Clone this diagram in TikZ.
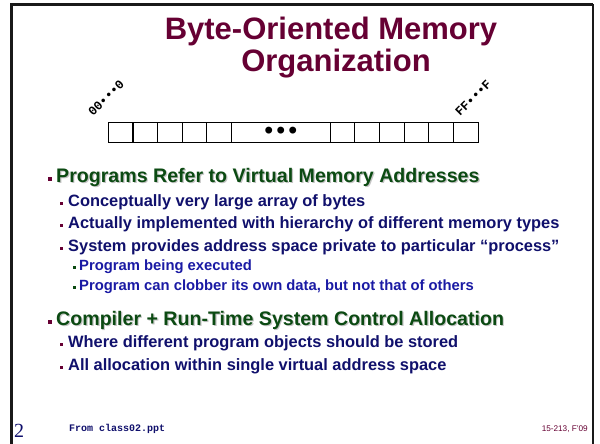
\documentclass[tikz,border=0pt]{standalone}
\usepackage{fontspec}
\setmainfont{Liberation Sans}
\newfontfamily\codefont{Liberation Mono}
\newfontfamily\pagefont{Liberation Serif}

\definecolor{titlered}{HTML}{660033}
\definecolor{levelgreen}{HTML}{0B4A12}
\definecolor{levelnavy}{HTML}{10106C}
\definecolor{levelblue}{HTML}{1A1AA4}
\definecolor{shadowgray}{HTML}{C4C4C4}

\tikzset{
  frameline/.style={line width=2.4pt, black!90},
  titletext/.style={anchor=base, inner sep=0pt, text=titlered,
    font=\fontsize{31}{31}\selectfont\bfseries},
  cell/.style={draw=black, line width=1.1pt, minimum height=20pt,
    minimum width=24.65pt, inner sep=0pt, outer sep=0pt},
  widecell/.style={cell, minimum width=98.6pt},
  addrlabel/.style={anchor=base west, rotate=45, inner sep=0pt,
    font=\codefont\fontsize{12.5}{12.5}\selectfont\bfseries},
  dotstext/.style={inner sep=0pt, font=\fontsize{24}{24}\selectfont\bfseries},
  % bullet text levels
  lvlone/.style={anchor=base west, inner sep=0pt, text=levelgreen,
    font=\fontsize{19.6}{19.6}\selectfont\bfseries},
  lvloneshadow/.style={lvlone, text=shadowgray},
  lvltwo/.style={anchor=base west, inner sep=0pt, text=levelnavy,
    font=\fontsize{16.4}{16.4}\selectfont\bfseries},
  lvlthree/.style={anchor=base west, inner sep=0pt, text=levelblue,
    font=\fontsize{14.8}{14.8}\selectfont\bfseries},
  % bullet squares
  sqone/.style={fill=titlered, minimum size=4.2pt, inner sep=0pt, anchor=south west},
  sqtwo/.style={fill=titlered, minimum size=3.6pt, inner sep=0pt, anchor=south west},
  sqthree/.style={fill=levelgreen, minimum size=3.2pt, inner sep=0pt, anchor=south west},
  footnum/.style={anchor=base west, inner sep=0pt, text=levelnavy,
    font=\pagefont\fontsize{20}{20}\selectfont},
  footsrc/.style={anchor=base west, inner sep=0pt, text=levelnavy,
    font=\codefont\fontsize{10}{10}\selectfont\bfseries},
  footcourse/.style={anchor=base east, inner sep=0pt, text=titlered,
    font=\fontsize{8.2}{8.2}\selectfont},
}

\begin{document}
\begin{tikzpicture}[x=1pt, y=-1pt]
\useasboundingbox (0,0) rectangle (600,444);
\fill[white] (0,0) rectangle (600,444);

% slide frame, open at the bottom
\draw[frameline] (11.5,444) -- (11.5,4.5) -- (593,4.5);
\draw[line width=1.4pt, black!90] (593,4.5) -- (593,444);

% title
\node[titletext] (title1) at (331,40) {Byte-Oriented Memory};
\node[titletext] (title2) at (336,71) {Organization};

% byte array
\foreach \i in {1,...,5} {
  \node[cell] (c\i) at ({108.3 + (\i-0.5)*24.65}, 132.2) {};
}
\node[widecell] (cmid) at ({108.3 + 5*24.65 + 49.3}, 132.2) {};
\node[dotstext] (dots) at ([yshift=-0.5pt]cmid.center) {•\hspace{3.6pt}•\hspace{3.6pt}•};
\foreach \i in {7,...,12} {
  \node[cell] (c\i) at ({108.3 + 9*24.65 + (\i-6.5)*24.65}, 132.2) {};
}
\node[addrlabel] (lowaddr) at (93,117) {00•••0};
\node[addrlabel] (highaddr) at (460,117) {FF•••F};

% first group
\node[sqone] (b1) at (47.5,181) {};
\node[lvloneshadow] at (57.2,183.2) {Programs Refer to Virtual Memory Addresses};
\node[lvlone] (t1) at (56,182) {Programs Refer to Virtual Memory Addresses};

\node[sqtwo] (b11) at (59.5,205.5) {};
\node[lvltwo] (t11) at (68,206) {Conceptually very large array of bytes};
\node[sqtwo] (b12) at (59.5,227.5) {};
\node[lvltwo] (t12) at (68,228) {Actually implemented with hierarchy of different memory types};
\node[sqtwo] (b13) at (59.5,250.5) {};
\node[lvltwo] (t13) at (68,251) {System provides address space private to particular “process”};

\node[sqthree] (b131) at (73,269.5) {};
\node[lvlthree] (t131) at (79,270) {Program being executed};
\node[sqthree] (b132) at (73,289.5) {};
\node[lvlthree] (t132) at (79,290) {Program can clobber its own data, but not that of others};

% second group
\node[sqone] (b2) at (47.5,324) {};
\node[lvloneshadow] at (57.2,326.2) {Compiler + Run-Time System Control Allocation};
\node[lvlone] (t2) at (56,325) {Compiler + Run-Time System Control Allocation};

\node[sqtwo] (b21) at (59.5,346.5) {};
\node[lvltwo] (t21) at (68,347) {Where different program objects should be stored};
\node[sqtwo] (b22) at (59.5,369.5) {};
\node[lvltwo] (t22) at (68,370) {All allocation within single virtual address space};

% footer
\node[footnum] (pagenum) at (14,437) {2};
\node[footsrc] (source) at (69,431) {From class02.ppt};
\node[footcourse] (course) at (588,431) {15-213, F'09};
\end{tikzpicture}
\end{document}
